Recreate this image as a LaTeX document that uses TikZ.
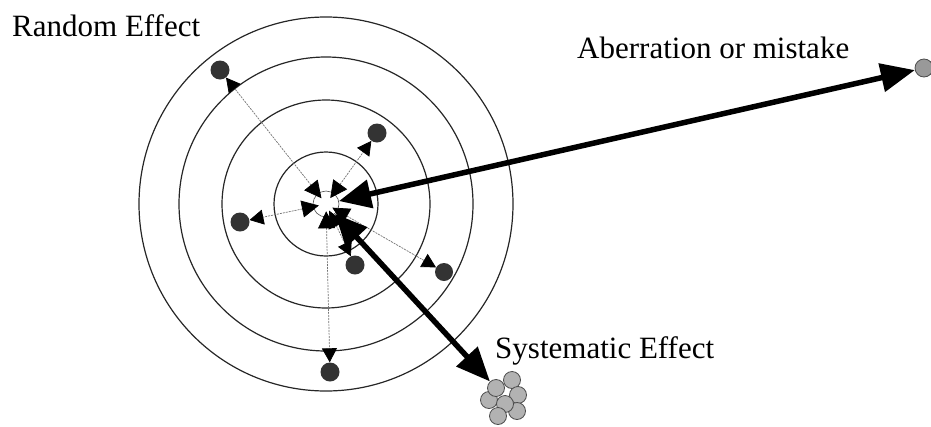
\documentclass[tikz,border=0pt]{standalone}
\usepackage{fontspec}
\setmainfont{Liberation Serif}
\usetikzlibrary{arrows.meta}
\begin{document}
\begin{tikzpicture}[x=1pt,y=-1pt,
  ring/.style={draw=black!85,line width=1.2pt},
  hitdot/.style={circle,fill=black!80,inner sep=0pt,minimum size=19pt},
  thinarrow/.style={draw=black!55,line width=0.7pt,dash pattern=on 2pt off 1pt,
     {Triangle[length=17pt,width=17pt,color=black]}-{Triangle[length=14pt,width=15pt,color=black]}},
  thickarrow/.style={line width=5.5pt,black,
     {Triangle[length=32pt,width=28pt]}-{Triangle[length=34pt,width=28pt]}},
  clus/.style={circle,draw=black!70,fill=black!30,line width=0.8pt,inner sep=0pt,minimum size=17pt},
  lab/.style={font=\fontsize{31}{31}\selectfont,text=black,inner sep=0pt,anchor=base west}
]
\useasboundingbox (0,0) rectangle (931,426);
% target rings
\draw[ring] (326,204) circle[radius=187];
\draw[ring] (326,204) circle[radius=147];
\draw[ring] (326,204) circle[radius=104];
\draw[ring] (326,204) circle[radius=52];
\node[circle,draw=black!70,line width=0.6pt,minimum size=26pt,inner sep=0pt] (bull) at (326,204) {};
\coordinate (ctr) at (326,204);
% hits
\node[hitdot] (d1) at (220,70) {};
\node[hitdot] (d2) at (377,133) {};
\node[hitdot] (d3) at (240,222) {};
\node[hitdot] (d4) at (355,265) {};
\node[hitdot,minimum size=18pt] (d5) at (444,272) {};
\node[hitdot] (d6) at (330,372) {};
\draw[thinarrow,shorten <=-6pt] (bull) -- (d1);
\draw[thinarrow,shorten <=-6pt] (bull) -- (d2);
\draw[thinarrow,shorten <=-6pt] (bull) -- (d3);
\draw[thinarrow,shorten <=-6pt] (bull) -- (d4);
\draw[thinarrow,shorten <=-6pt] (bull) -- (d5);
\draw[thinarrow,shorten <=-6pt] (bull) -- (d6);
% aberration
\node[circle,draw=black!70,fill=black!40,line width=0.8pt,inner sep=0pt,minimum size=18pt] (ab) at (924,68) {};
\draw[thickarrow] (bull) -- (ab);
% systematic cluster
\node[clus] (s2) at (512,380) {};
\node[clus] (s3) at (518,395) {};
\node[clus] (s4) at (489,400) {};
\node[clus] (s5) at (517,411) {};
\node[clus] (s6) at (505,404) {};
\node[clus] (s7) at (498,416) {};
\node[clus] (s1) at (496,388) {};
\draw[thickarrow] (bull) -- (s1);
% labels
\node[lab] (lr) at (12,36) {Random Effect};
\node[lab] (la) at (577,58) {Aberration or mistake};
\node[lab] (ls) at (495,358) {Systematic Effect};
\end{tikzpicture}
\end{document}
